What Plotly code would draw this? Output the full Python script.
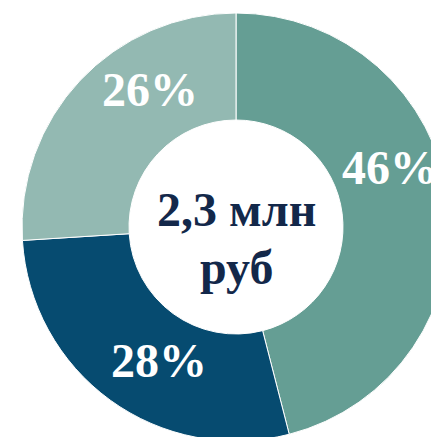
import plotly.graph_objects as go

# shares of the total, clockwise from 12 o'clock
SEGMENTS = ["Сегмент 1", "Сегмент 2", "Сегмент 3"]
SHARES = [46, 28, 26]
COLORS = ["#659e94", "#064b70", "#93b9b2"]
CENTER_TEXT = ["2,3 млн", "руб"]

FONT = "Liberation Serif, Times New Roman, serif"
NAVY = "#13284a"

# page body has an 8px margin; the figure is larger than the window so the
# ring runs off the right/bottom edge like in the original slide
OFF = 8
W, H = 456, 446
CX, CY, R = 236 - OFF, 227 - OFF, 214


def px(x, y):
    """window pixel -> paper coords"""
    return (x - OFF) / W, 1 - (y - OFF) / H


fig = go.Figure(
    go.Pie(
        labels=SEGMENTS,
        values=SHARES,
        sort=False,
        direction="clockwise",
        rotation=0,
        hole=0.5,
        marker=dict(colors=COLORS, line=dict(color="white", width=1)),
        textinfo="none",
        hoverinfo="label+percent",
        domain=dict(x=[(CX - R) / W, (CX + R) / W], y=[1 - (CY + R) / H, 1 - (CY - R) / H]),
        showlegend=False,
    )
)

# percentage labels, placed like the original slide
label_pos = [(390, 167), (159, 360), (150, 90)]
for share, (lx, ly) in zip(SHARES, label_pos):
    ax, ay = px(lx, ly)
    fig.add_annotation(
        x=ax, y=ay, xref="paper", yref="paper",
        text=f"<b>{share}%</b>", showarrow=False,
        font=dict(family=FONT, size=48, color="white"),
        xanchor="center", yanchor="middle",
    )

for line, ly in zip(CENTER_TEXT, (209, 267)):
    ax, ay = px(236, ly)
    fig.add_annotation(
        x=ax, y=ay, xref="paper", yref="paper",
        text=f"<b>{line}</b>", showarrow=False,
        font=dict(family=FONT, size=48, color=NAVY),
        xanchor="center", yanchor="middle",
    )

fig.update_layout(
    width=W,
    height=H,
    autosize=False,
    margin=dict(l=0, r=0, t=0, b=0),
    paper_bgcolor="white",
    plot_bgcolor="white",
)

fig.write_html("out.html", config={"displayModeBar": False})
